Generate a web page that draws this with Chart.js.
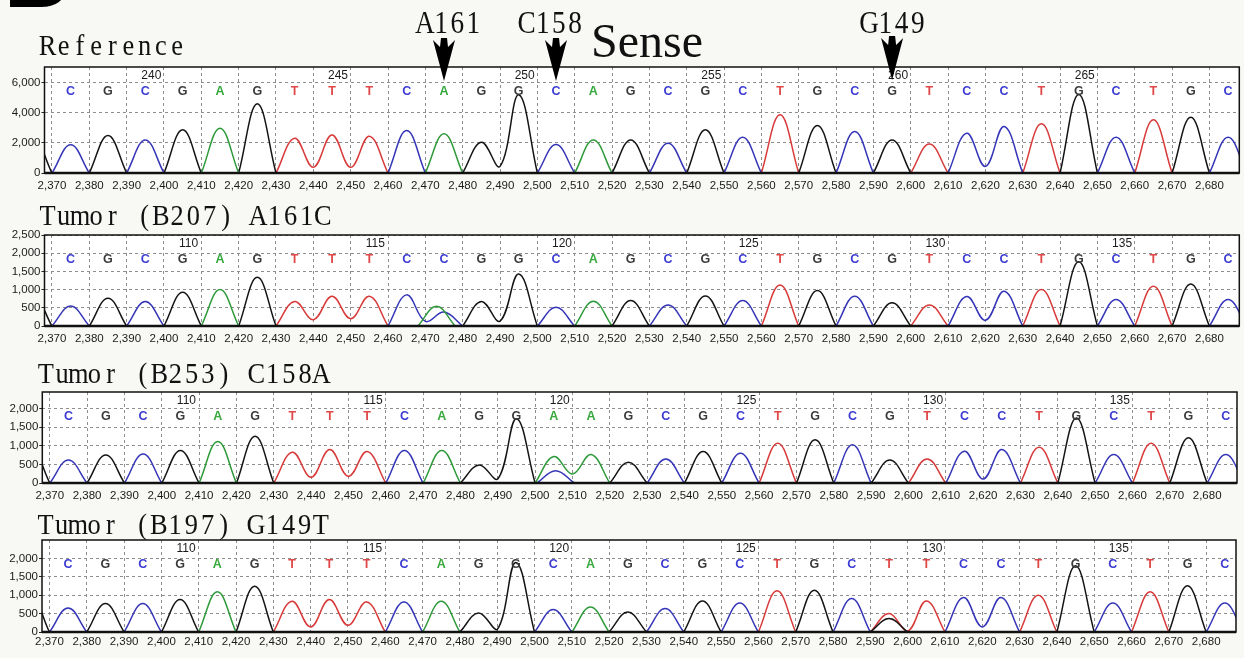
<!DOCTYPE html>
<html>
<head>
<meta charset="utf-8">
<title>Sanger chromatograms</title>
<script src="https://cdn.jsdelivr.net/npm/chart.js@4.4.1/dist/chart.umd.min.js"></script>
<style>
html,body{margin:0;padding:0}
body{width:1244px;height:658px;overflow:hidden;background:#f8f9f5;position:relative}
canvas.panel{position:absolute;left:0}
#ov{position:absolute;left:0;top:0;pointer-events:none}
</style>
</head>
<body>
<canvas class="panel" id="c0"></canvas>
<canvas class="panel" id="c1"></canvas>
<canvas class="panel" id="c2"></canvas>
<canvas class="panel" id="c3"></canvas>
<svg id="ov" width="1244" height="658" xmlns="http://www.w3.org/2000/svg"></svg>
<script>
// ---------- data ----------
const positions = [2365,2375,2385,2395,2405,2415,2425,2435,2445,2455,2465,2475,2485,2495,2505,2515,2525,2535,2545,2555,2565,2575,2585,2595,2605,2615,2625,2635,2645,2655,2665,2675,2685];
const xTicks = [2370,2380,2390,2400,2410,2420,2430,2440,2450,2460,2470,2480,2490,2500,2510,2520,2530,2540,2550,2560,2570,2580,2590,2600,2610,2620,2630,2640,2650,2660,2670,2680];

const refBases  = ['G','C','G','C','G','A','G','T','T','T','C','A','G','G','C','A','G','C','G','C','T','G','C','G','T','C','C','T','G','C','T','G','C'];
const b207Bases = ['G','C','G','C','G','A','G','T','T','T','C','C','G','G','C','A','G','C','G','C','T','G','C','G','T','C','C','T','G','C','T','G','C'];
const b253Bases = ['G','C','G','C','G','A','G','T','T','T','C','A','G','G','A','A','G','C','G','C','T','G','C','G','T','C','C','T','G','C','T','G','C'];
const b197Bases = ['G','C','G','C','G','A','G','T','T','T','C','A','G','G','C','A','G','C','G','C','T','G','C','T','T','C','C','T','G','C','T','G','C'];

const refHeights  = [2400,1880,2490,2200,2870,2980,4600,2310,2530,2440,2820,2600,2040,5200,1890,2200,2200,1980,2870,2380,3870,3160,2760,2200,1930,2640,3090,3270,5220,2380,3530,3710,2380];
const b207Heights = [850,550,764,673,927,1000,1336,673,818,818,855,382,673,1427,518,682,700,580,827,700,1127,973,818,636,580,809,955,1000,1764,727,1090,1155,727];
const b253Heights = [950,622,757,784,874,1117,1261,829,901,847,874,874,486,1730,712,766,559,649,847,802,1072,1162,1027,622,649,856,901,964,1748,766,1072,1216,766];
const b197Heights = [1000,655,773,773,882,1091,1245,836,882,818,818,836,518,1891,609,682,545,636,845,791,1118,1136,909,500,845,936,936,1000,1800,791,1091,1255,791];

// valleys between neighbouring peaks of the same base [x, value]
const refValleys  = [[2440,380],[2450,380],[2490,440],[2620,440]];
const b207Valleys = [[2440,173],[2450,200],[2470,127],[2490,136],[2620,155]];
const b253Valleys = [[2440,153],[2450,180],[2490,108],[2510,243],[2620,108]];
const b197Valleys = [[2440,136],[2450,182],[2490,64],[2600,20],[2620,136]];

// secondary (mixed) peaks [base, x, value]
const refMinor  = [];
const b207Minor = [['A',2473,540]];
const b253Minor = [['C',2505.5,333]];
const b197Minor = [['G',2595,364]];

const refNumbers   = [[2395,240],[2445,245],[2495,250],[2545,255],[2595,260],[2645,265]];
const tumorNumbers = [[2405,110],[2455,115],[2505,120],[2555,125],[2605,130],[2655,135]];

const refYTicks  = [0,2000,4000,6000];
const b207YTicks = [0,500,1000,1500,2000,2500];
const b253YTicks = [0,500,1000,1500,2000];
const b197YTicks = [0,500,1000,1500,2000];
const yMaxes = [7040,2500,2450,2500];

const titles = ['Reference','Tumor (B207) A161C','Tumor (B253) C158A','Tumor (B197) G149T'];
const markerLabels = ['A161','C158','G149'];
const markerPositions = [2475,2505,2595];

// ---------- styles / layout ----------
const CH_TRACE  = {A:'#2f9a3a', C:'#3535b8', G:'#141414', T:'#d83a3a'};
const CH_LETTER = {A:'#36a83c', C:'#3c3cd2', G:'#3a3a3a', T:'#e04848'};
const layout = [
  {L:44.5, T:66.7,  B:172.3, R:1239.3, pad:5.5, tx:40,   ty:55},
  {L:44.5, T:235,   B:325.7, R:1239.3, pad:6,   tx:40,   ty:225},
  {L:42.3, T:391.7, B:482.3, R:1237,   pad:6,   tx:38.3, ty:383.3},
  {L:42,   T:540,   B:631.7, R:1236,   pad:3,   tx:38,   ty:534}
];
const markerLayout = [
  {lx:417.3, top:38, tip:81},
  {lx:519,   top:38, tip:81},
  {lx:861.7, top:36, tip:80}
];

const panels = [
  {bases:refBases,  heights:refHeights,  valleys:refValleys,  minor:refMinor,  numbers:refNumbers,   yTicks:refYTicks},
  {bases:b207Bases, heights:b207Heights, valleys:b207Valleys, minor:b207Minor, numbers:tumorNumbers, yTicks:b207YTicks},
  {bases:b253Bases, heights:b253Heights, valleys:b253Valleys, minor:b253Minor, numbers:tumorNumbers, yTicks:b253YTicks},
  {bases:b197Bases, heights:b197Heights, valleys:b197Valleys, minor:b197Minor, numbers:tumorNumbers, yTicks:b197YTicks}
];

function channelData(p, ch) {
  const vmap = new Map(p.valleys);
  const runs = [];
  let cur = null;
  for (let i = 0; i < positions.length; i++) {
    if (p.bases[i] !== ch) { if (cur) { runs.push(cur); cur = null; } continue; }
    const x = positions[i];
    if (!cur) cur = [{x: x - 5, y: 0}];
    cur.push({x: x, y: p.heights[i]});
    const nextSame = i + 1 < positions.length && p.bases[i + 1] === ch;
    cur.push({x: x + 5, y: nextSame ? (vmap.has(x + 5) ? vmap.get(x + 5) : 0) : 0});
  }
  if (cur) runs.push(cur);
  p.minor.filter(m => m[0] === ch).forEach(m => runs.push([{x: m[1] - 5, y: 0}, {x: m[1], y: m[2]}, {x: m[1] + 5, y: 0}]));
  runs.sort((a, b) => a[0].x - b[0].x);
  const out = [];
  runs.forEach((r, k) => { if (k) out.push({x: r[0].x - 0.01, y: null}); r.forEach(pt => out.push(pt)); });
  return out;
}

function overlay(p) {
  return {
    id: 'seqOverlay',
    beforeDraw(chart) {
      const ctx = chart.ctx, a = chart.chartArea;
      ctx.save(); ctx.fillStyle = '#ffffff';
      ctx.fillRect(a.left, a.top, a.right - a.left, a.bottom - a.top);
      ctx.restore();
    },
    afterDatasetsDraw(chart) {
      const ctx = chart.ctx, a = chart.chartArea, x = chart.scales.x;
      ctx.save();
      ctx.font = 'bold 12.5px "Liberation Sans", Arial, sans-serif';
      ctx.textAlign = 'center'; ctx.textBaseline = 'middle';
      p.bases.forEach((b, i) => {
        const px = x.getPixelForValue(positions[i]);
        if (px < a.left || px > a.right) return;
        ctx.fillStyle = CH_LETTER[b];
        ctx.fillText(b, px, a.top + 24.5);
      });
      ctx.font = '12px "Liberation Sans", Arial, sans-serif';
      ctx.fillStyle = '#1a1a1a';
      p.numbers.forEach(n => ctx.fillText(String(n[1]), x.getPixelForValue(n[0]) + 6, a.top + 9));
      ctx.strokeStyle = '#111'; ctx.lineWidth = 1.5;
      ctx.strokeRect(a.left, a.top, a.right - a.left, a.bottom - a.top);
      ctx.lineWidth = 2.4; ctx.beginPath(); ctx.moveTo(a.left, a.bottom); ctx.lineTo(a.right, a.bottom); ctx.stroke();
      ctx.restore();
    }
  };
}

const fmt = v => Number(v).toLocaleString('en-US');
const tickFont = {family: '"Liberation Sans", Arial, sans-serif', size: 11.5};

const charts = panels.map((p, k) => {
  const g = layout[k];
  const cv = document.getElementById('c' + k);
  const xh = 22, topPad = 8;
  const W = Math.ceil(g.R) + 2, H = Math.round(g.B - g.T + topPad + xh);
  cv.width = W; cv.height = H;
  cv.style.width = W + 'px'; cv.style.height = H + 'px';
  cv.style.top = (g.T - topPad) + 'px';
  return new Chart(cv, {
    type: 'line',
    data: {datasets: ['A','C','G','T'].map(ch => ({
      label: ch, data: channelData(p, ch), borderColor: CH_TRACE[ch], borderWidth: 1.5,
      pointRadius: 0, tension: 0.4, fill: false
    }))},
    options: {
      responsive: false, animation: false, events: [],
      layout: {padding: {top: topPad, right: W - g.R, left: 0, bottom: 0}},
      plugins: {legend: {display: false}, tooltip: {enabled: false}},
      scales: {
        x: {
          type: 'linear', min: 2368, max: 2688,
          afterBuildTicks: s => { s.ticks = xTicks.map(v => ({value: v})); },
          afterFit: s => { s.height = xh; },
          ticks: {autoSkip: false, maxRotation: 0, padding: g.pad, color: '#1a1a1a', font: tickFont, callback: fmt},
          grid: {color: '#8e8e8e', lineWidth: 1, drawTicks: false, borderDash: [3,3]},
          border: {display: false, dash: [3,3]}
        },
        y: {
          type: 'linear', min: 0, max: yMaxes[k],
          afterBuildTicks: s => { s.ticks = p.yTicks.map(v => ({value: v})); },
          afterFit: s => { s.width = g.L; },
          ticks: {padding: 1, color: '#1a1a1a', font: tickFont, callback: fmt},
          grid: {color: '#8e8e8e', lineWidth: 1, drawTicks: true, tickLength: 3, tickColor: '#222', tickBorderDash: [], borderDash: [3,3]},
          border: {display: false, dash: [3,3]}
        }
      }
    },
    plugins: [overlay(p)]
  });
});

// ---------- titles, labels and arrows (SVG text) ----------
const NS = 'http://www.w3.org/2000/svg';
const ov = document.getElementById('ov');
function el(tag, attrs, text) {
  const e = document.createElementNS(NS, tag);
  Object.keys(attrs).forEach(k => e.setAttribute(k, attrs[k]));
  if (text !== undefined) e.textContent = text;
  ov.appendChild(e);
  return e;
}
function monoText(str, start, baseline, size) {
  const sx = 0.88, adv = 16.2;
  const xs = Array.from(str).map((c, i) => ((start + 7.5 + i * adv) / sx).toFixed(2)).join(' ');
  el('text', {x: xs, y: baseline, transform: 'scale(' + sx + ',1)', 'font-family': '"Liberation Serif", serif',
    'font-size': size, 'text-anchor': 'middle', fill: '#111'}, str);
}
el('text', {x: 4, y: 7, 'font-family': '"Liberation Sans", Arial, sans-serif', 'font-weight': 'bold', 'font-size': 90, fill: '#000'}, 'B');
titles.forEach((t, k) => monoText(t, layout[k].tx, layout[k].ty, 30));
el('text', {x: 591, y: 56.5, 'font-family': '"Liberation Serif", serif', 'font-size': 48, fill: '#111'}, 'Sense');
markerLabels.forEach((m, k) => {
  const ml = markerLayout[k];
  monoText(m, ml.lx, 33, 31);
  const cx = charts[0].scales.x.getPixelForValue(markerPositions[k]);
  const t = ml.top, tip = ml.tip;
  const pts = [[cx-11,t+2],[cx-4,t+9],[cx-3,t],[cx+3,t],[cx+4,t+9],[cx+11,t+2],[cx,tip]];
  el('polygon', {points: pts.map(q => q[0].toFixed(1) + ',' + q[1]).join(' '), fill: '#000'});
});
</script>
</body>
</html>
